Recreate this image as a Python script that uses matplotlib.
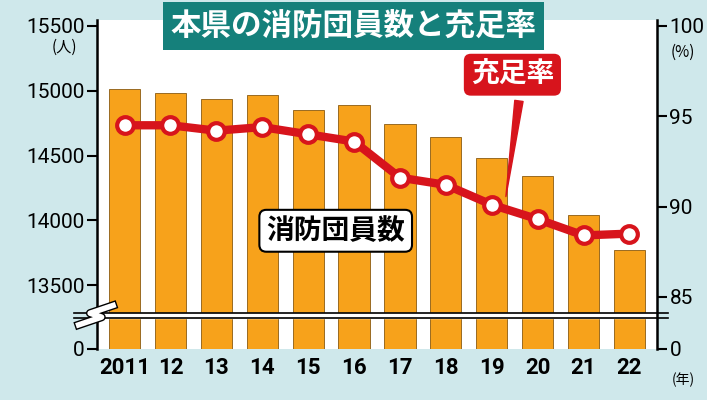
import numpy as np
import matplotlib.pyplot as plt
import matplotlib.patheffects as pe

plt.rcParams['font.family'] = 'Noto Sans CJK JP'

years = ['2011', '12', '13', '14', '15', '16', '17', '18', '19', '20', '21', '22']
members = [15015, 14985, 14940, 14970, 14855, 14890, 14740, 14640, 14485, 14345, 14040, 13770]
rate = [94.5, 94.5, 94.2, 94.4, 94.0, 93.6, 91.6, 91.2, 90.1, 89.3, 88.4, 88.5]
left_ticks = [13500, 14000, 14500, 15000, 15500]
right_ticks = [85, 90, 95, 100]

zero_l = 13008   # where "0" sits on the broken axis
zero_r = 82.11

fig = plt.figure(figsize=(7.07, 4.0), dpi=100, facecolor='#cfe8eb')
ax = fig.add_axes([97/707, 1-349/400, (657-97)/707, (349-20)/400])
ax.set_facecolor('white')
x = np.arange(len(years))
ax.bar(x, np.array(members) - zero_l, bottom=zero_l, width=0.68,
       color='#f7a21b', edgecolor='#8a5a10', linewidth=0.6, zorder=2)
ax.set_xlim(-0.6, len(years) - 0.4)
ax.set_ylim(zero_l, 15546)
ax.set_yticks([zero_l] + left_ticks)
ax.set_yticklabels(['0'] + [str(t) for t in left_ticks], fontsize=15,
                   fontfamily='DejaVu Sans Condensed' if False else 'Roboto')
ax.set_xticks(x)
ax.set_xticklabels(years, fontsize=16, fontweight='bold', fontfamily='Roboto')
ax.tick_params(axis='x', length=0, pad=6)
ax.tick_params(axis='y', length=7, width=1.5, direction='out', pad=2)
for s in ['top', 'bottom']:
    ax.spines[s].set_visible(False)
ax.spines['left'].set_linewidth(1.8)
ax.spines['right'].set_visible(False)

ax2 = ax.twinx()
ax2.set_ylim(zero_r, 100.33)
ax2.plot(x, rate, color='#d7141c', linewidth=6, marker='o', markersize=12,
         markerfacecolor='white', markeredgecolor='#d7141c', markeredgewidth=3, zorder=4)
ax2.set_yticks([zero_r] + right_ticks)
ax2.set_yticklabels(['0'] + [str(t) for t in right_ticks], fontsize=15, fontfamily='Roboto')
ax2.tick_params(axis='y', length=7, width=1.5, direction='out', pad=2)
for s in ['top', 'bottom', 'left']:
    ax2.spines[s].set_visible(False)
ax2.spines['right'].set_linewidth(1.8)

# axis break band
yb = 13269
ax.axhspan(yb - 20, yb + 20, color='white', zorder=5, clip_on=False)
for dy in (-20, 20):
    ax.plot([-1.1, len(years) - 0.4 + 0.25], [yb + dy] * 2, color='black', lw=1.2,
            zorder=6, clip_on=False)
ax.plot([-1.0, -0.5, -0.75, -0.25], [yb - 75, yb - 15, yb + 15, yb + 75], color='white',
        lw=4, zorder=7, clip_on=False,
        path_effects=[pe.Stroke(linewidth=6, foreground='black'), pe.Normal()])

# units
fig.text(64/707, 1-47/400, '(人)', fontsize=11, ha='center', va='center')
fig.text(683/707, 1-52/400, '(%)', fontsize=11, ha='center', va='center')
fig.text(683/707, 1-380/400, '(年)', fontsize=10, ha='center', va='center')

# title
fig.text(0.5, 1-26/400, '本県の消防団員数と充足率', fontsize=22, fontweight='bold',
         color='white', ha='center', va='center',
         bbox=dict(boxstyle='square,pad=0.25', fc='#15807b', ec='none'))

# labels
ax.text(4.6, 13920, '消防団員数', fontsize=20, fontweight='bold', ha='center', va='center',
        zorder=8, bbox=dict(boxstyle='round,pad=0.25', fc='white', ec='black', lw=1.5))
ax2.text(8.45, 97.3, '充足率', fontsize=20, fontweight='bold', color='white', ha='center',
         va='center', zorder=8,
         bbox=dict(boxstyle='round,pad=0.25', fc='#d7141c', ec='none'))
ax2.annotate('', xy=(8.3, 90.4), xytext=(8.6, 96.0),
             arrowprops=dict(arrowstyle='wedge,tail_width=0.6', fc='#d7141c', ec='#d7141c'))

fig.savefig('out.png', dpi=100, facecolor=fig.get_facecolor())
